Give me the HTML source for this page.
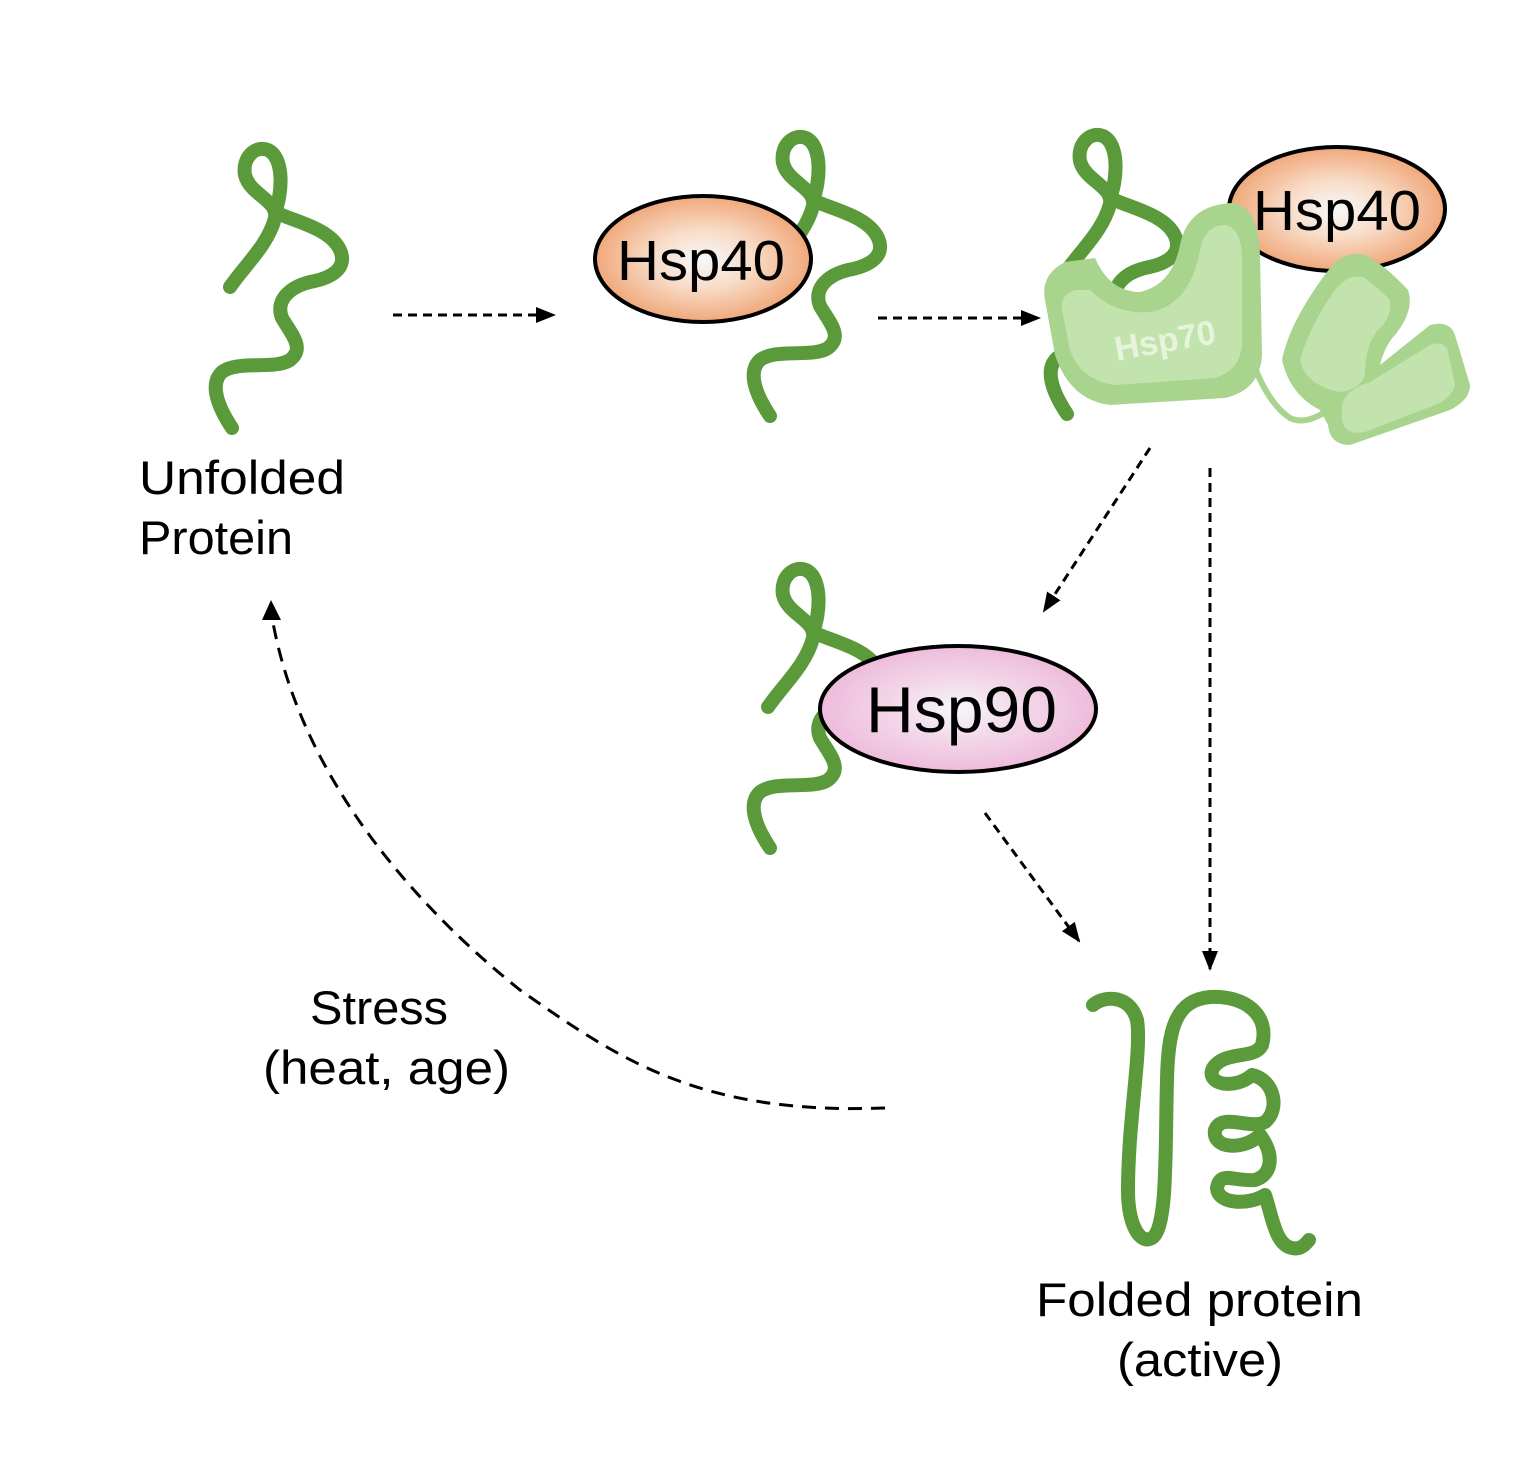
<!DOCTYPE html>
<html><head><meta charset="utf-8"><style>
html,body{margin:0;padding:0;background:#fff;}
svg{display:block;}
text{font-family:"Liberation Sans",sans-serif;}
</style></head><body>
<svg width="1522" height="1458" viewBox="0 0 1522 1458" xmlns="http://www.w3.org/2000/svg">
<defs>
<radialGradient id="og" cx="50%" cy="50%" r="50%"><stop offset="0" stop-color="#f6f8fb"/><stop offset="0.45" stop-color="#f8ddc9"/><stop offset="1" stop-color="#f0a87a"/></radialGradient>
<radialGradient id="pg" cx="50%" cy="50%" r="50%"><stop offset="0" stop-color="#f4f7fa"/><stop offset="0.5" stop-color="#f3d6e8"/><stop offset="1" stop-color="#edbcdb"/></radialGradient>
<marker id="ah2" markerWidth="20" markerHeight="16" refX="18" refY="8" orient="auto" markerUnits="userSpaceOnUse"><path d="M0,0 L20,8 L0,16 Z" fill="#000"/></marker>
<g id="prot">
<path d="M230,287 C245,265 268,245 275,218 C278,200 250,195 245,175 C242,158 255,145 268,150 C285,158 282,195 275,212 C295,222 330,228 340,250 C348,268 332,278 310,282 C290,287 275,300 282,318 C292,335 305,348 290,360 C275,370 238,360 222,372 C208,385 220,410 232,428" fill="none" stroke="#5a9a3a" stroke-width="14" stroke-linecap="round" stroke-linejoin="round"/>
</g>
</defs>

<use href="#prot"/>
<use href="#prot" transform="translate(538,-12)"/>
<use href="#prot" transform="translate(835,-14)"/>
<use href="#prot" transform="translate(538,420)"/>

<ellipse cx="703" cy="259" rx="108" ry="63" fill="url(#og)" stroke="#000" stroke-width="4"/>
<text x="617" y="280" font-size="57" textLength="168" lengthAdjust="spacingAndGlyphs">Hsp40</text>

<ellipse cx="1337" cy="209" rx="108" ry="62" fill="url(#og)" stroke="#000" stroke-width="4"/>
<text x="1253" y="230" font-size="57" textLength="168" lengthAdjust="spacingAndGlyphs">Hsp40</text>

<path d="M1255,368 Q1270,405 1290,418 Q1305,425 1325,412" fill="none" stroke="#a8d48e" stroke-width="6"/>
<path d="M1045,300 Q1040,275 1065,262 L1095,258 Q1110,292 1140,292 Q1172,285 1180,245 Q1188,205 1232,203 Q1258,205 1260,255 L1262,355 Q1260,390 1225,398 L1110,405 Q1070,400 1055,355 Z" fill="#a8d48e"/>
<path d="M1062,310 Q1060,295 1075,290 L1090,290 Q1115,315 1150,312 Q1190,305 1200,250 Q1205,225 1225,225 Q1242,228 1242,260 L1242,345 Q1240,370 1215,378 L1115,385 Q1080,380 1070,350 Z" fill="#c3e3ae"/>
<text x="1165" y="352" font-size="34" font-weight="bold" fill="#e6f4dc" text-anchor="middle" transform="rotate(-10 1165 340)">Hsp70</text>
<path d="M1282,360 Q1290,320 1330,268 Q1345,250 1365,255 Q1385,265 1408,290 Q1415,310 1395,335 Q1385,345 1380,365 L1430,325 Q1450,320 1455,335 L1470,385 Q1470,400 1450,410 L1350,445 Q1330,445 1328,425 L1320,410 Q1290,395 1282,360 Z" fill="#a8d48e"/>
<path d="M1300,360 Q1310,325 1335,290 Q1350,272 1365,278 Q1380,290 1390,300 Q1392,318 1378,330 Q1365,345 1365,375 Q1360,390 1340,392 Q1305,385 1300,360 Z" fill="#c3e3ae"/>
<path d="M1342,405 Q1345,390 1370,382 L1430,345 Q1445,340 1448,352 L1455,385 Q1452,398 1435,405 L1365,432 Q1345,436 1342,420 Z" fill="#c3e3ae"/>

<ellipse cx="958" cy="709" rx="138" ry="63" fill="url(#pg)" stroke="#000" stroke-width="4"/>
<text x="866" y="732" font-size="65" textLength="191" lengthAdjust="spacingAndGlyphs">Hsp90</text>

<path d="M1093,1005 C1105,995 1130,995 1137,1020 C1142,1050 1128,1120 1128,1190 C1128,1225 1140,1245 1152,1238 C1168,1228 1165,1150 1167,1080 C1168,1030 1175,1000 1210,997 C1245,995 1270,1015 1262,1045 C1255,1060 1225,1050 1213,1068 C1205,1085 1235,1090 1252,1075 C1275,1080 1280,1110 1265,1122 C1250,1130 1222,1112 1215,1130 C1212,1150 1245,1150 1260,1135 C1275,1155 1272,1175 1255,1180 C1235,1182 1220,1170 1217,1188 C1218,1205 1250,1205 1265,1195 C1272,1215 1275,1245 1292,1248 C1300,1250 1305,1245 1309,1240" fill="none" stroke="#5a9a3a" stroke-width="14" stroke-linecap="round" stroke-linejoin="round"/>

<g fill="none" stroke="#000" stroke-width="3" stroke-dasharray="9,6">
<line x1="393" y1="315" x2="554" y2="315" marker-end="url(#ah2)"/>
<line x1="878" y1="318" x2="1039" y2="318" marker-end="url(#ah2)"/>
<line x1="1150" y1="448" x2="1044" y2="611" marker-end="url(#ah2)"/>
<line x1="1210" y1="468" x2="1210" y2="969" marker-end="url(#ah2)"/>
<line x1="985" y1="813" x2="1079" y2="941" marker-end="url(#ah2)"/>
</g>
<path d="M885,1108 C700,1115 620,1060 520,990 C420,910 300,780 272,617" fill="none" stroke="#000" stroke-width="3" stroke-dasharray="14,9"/>
<path d="M262,620 L271,600 L281,620 Z" fill="#000"/>

<text x="139" y="494" font-size="47" textLength="206" lengthAdjust="spacingAndGlyphs">Unfolded</text>
<text x="139" y="554" font-size="47" textLength="154" lengthAdjust="spacingAndGlyphs">Protein</text>
<text x="310" y="1024" font-size="47" textLength="138" lengthAdjust="spacingAndGlyphs">Stress</text>
<text x="263" y="1084" font-size="47" textLength="247" lengthAdjust="spacingAndGlyphs">(heat, age)</text>
<text x="1036" y="1316" font-size="47" textLength="327" lengthAdjust="spacingAndGlyphs">Folded protein</text>
<text x="1117" y="1376" font-size="47" textLength="166" lengthAdjust="spacingAndGlyphs">(active)</text>
</svg>
</body></html>
